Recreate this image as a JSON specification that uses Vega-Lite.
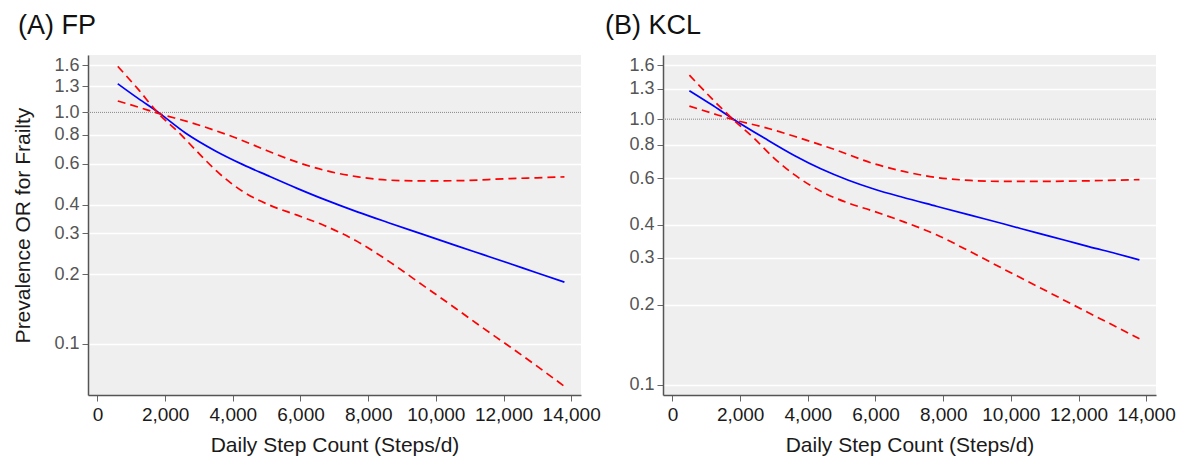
{
  "$schema": "https://vega.github.io/schema/vega-lite/v6.json",
  "background": "white",
  "padding": {"left": 12, "top": 12, "right": 2, "bottom": 2},
  "bounds": "flush",
  "spacing": 82,
  "datasets": {
    "a": [
      {"steps": 600, "curve": "OR", "or": 1.33},
      {"steps": 1200, "curve": "OR", "or": 1.15},
      {"steps": 1800, "curve": "OR", "or": 1.0},
      {"steps": 2600, "curve": "OR", "or": 0.815},
      {"steps": 3500, "curve": "OR", "or": 0.68},
      {"steps": 4300, "curve": "OR", "or": 0.595},
      {"steps": 5000, "curve": "OR", "or": 0.536},
      {"steps": 5900, "curve": "OR", "or": 0.47},
      {"steps": 6700, "curve": "OR", "or": 0.421},
      {"steps": 7700, "curve": "OR", "or": 0.371},
      {"steps": 8600, "curve": "OR", "or": 0.334},
      {"steps": 9600, "curve": "OR", "or": 0.298},
      {"steps": 10600, "curve": "OR", "or": 0.266},
      {"steps": 11400, "curve": "OR", "or": 0.243},
      {"steps": 12200, "curve": "OR", "or": 0.222},
      {"steps": 13000, "curve": "OR", "or": 0.2024},
      {"steps": 13800, "curve": "OR", "or": 0.185},
      {"steps": 600, "curve": "Upper", "or": 1.12},
      {"steps": 1200, "curve": "Upper", "or": 1.055},
      {"steps": 1800, "curve": "Upper", "or": 0.99},
      {"steps": 2800, "curve": "Upper", "or": 0.9},
      {"steps": 4100, "curve": "Upper", "or": 0.775},
      {"steps": 5000, "curve": "Upper", "or": 0.685},
      {"steps": 5900, "curve": "Upper", "or": 0.61},
      {"steps": 6700, "curve": "Upper", "or": 0.563},
      {"steps": 7700, "curve": "Upper", "or": 0.527},
      {"steps": 8600, "curve": "Upper", "or": 0.51},
      {"steps": 9600, "curve": "Upper", "or": 0.506},
      {"steps": 10600, "curve": "Upper", "or": 0.507},
      {"steps": 12200, "curve": "Upper", "or": 0.518},
      {"steps": 13000, "curve": "Upper", "or": 0.522},
      {"steps": 13800, "curve": "Upper", "or": 0.527},
      {"steps": 600, "curve": "Lower", "or": 1.58},
      {"steps": 1200, "curve": "Lower", "or": 1.26},
      {"steps": 1800, "curve": "Lower", "or": 0.99},
      {"steps": 2400, "curve": "Lower", "or": 0.82},
      {"steps": 2950, "curve": "Lower", "or": 0.676},
      {"steps": 3550, "curve": "Lower", "or": 0.553},
      {"steps": 4300, "curve": "Lower", "or": 0.455},
      {"steps": 5100, "curve": "Lower", "or": 0.397},
      {"steps": 5900, "curve": "Lower", "or": 0.36},
      {"steps": 6700, "curve": "Lower", "or": 0.325},
      {"steps": 7700, "curve": "Lower", "or": 0.276},
      {"steps": 8600, "curve": "Lower", "or": 0.228},
      {"steps": 9600, "curve": "Lower", "or": 0.18},
      {"steps": 10600, "curve": "Lower", "or": 0.142},
      {"steps": 11400, "curve": "Lower", "or": 0.117},
      {"steps": 12200, "curve": "Lower", "or": 0.097},
      {"steps": 13000, "curve": "Lower", "or": 0.08},
      {"steps": 13800, "curve": "Lower", "or": 0.0656}
    ],
    "b": [
      {"steps": 500, "curve": "OR", "or": 1.28},
      {"steps": 1150, "curve": "OR", "or": 1.135},
      {"steps": 1800, "curve": "OR", "or": 1.0},
      {"steps": 2700, "curve": "OR", "or": 0.851},
      {"steps": 3600, "curve": "OR", "or": 0.73},
      {"steps": 4400, "curve": "OR", "or": 0.649},
      {"steps": 5200, "curve": "OR", "or": 0.589},
      {"steps": 5950, "curve": "OR", "or": 0.546},
      {"steps": 6800, "curve": "OR", "or": 0.508},
      {"steps": 7800, "curve": "OR", "or": 0.47},
      {"steps": 8800, "curve": "OR", "or": 0.435},
      {"steps": 9800, "curve": "OR", "or": 0.403},
      {"steps": 10800, "curve": "OR", "or": 0.372},
      {"steps": 11600, "curve": "OR", "or": 0.35},
      {"steps": 12300, "curve": "OR", "or": 0.331},
      {"steps": 13100, "curve": "OR", "or": 0.312},
      {"steps": 13800, "curve": "OR", "or": 0.295},
      {"steps": 500, "curve": "Upper", "or": 1.12},
      {"steps": 1150, "curve": "Upper", "or": 1.055},
      {"steps": 1800, "curve": "Upper", "or": 0.995},
      {"steps": 2700, "curve": "Upper", "or": 0.933},
      {"steps": 3600, "curve": "Upper", "or": 0.862},
      {"steps": 4800, "curve": "Upper", "or": 0.768},
      {"steps": 5900, "curve": "Upper", "or": 0.683},
      {"steps": 6800, "curve": "Upper", "or": 0.637},
      {"steps": 7800, "curve": "Upper", "or": 0.603},
      {"steps": 8800, "curve": "Upper", "or": 0.588},
      {"steps": 9800, "curve": "Upper", "or": 0.583},
      {"steps": 10800, "curve": "Upper", "or": 0.583},
      {"steps": 12300, "curve": "Upper", "or": 0.586},
      {"steps": 13800, "curve": "Upper", "or": 0.592},
      {"steps": 500, "curve": "Lower", "or": 1.466},
      {"steps": 1150, "curve": "Lower", "or": 1.2},
      {"steps": 1800, "curve": "Lower", "or": 0.995},
      {"steps": 2400, "curve": "Lower", "or": 0.85},
      {"steps": 3000, "curve": "Lower", "or": 0.714},
      {"steps": 3600, "curve": "Lower", "or": 0.618},
      {"steps": 4400, "curve": "Lower", "or": 0.534},
      {"steps": 5200, "curve": "Lower", "or": 0.483},
      {"steps": 5900, "curve": "Lower", "or": 0.452},
      {"steps": 6800, "curve": "Lower", "or": 0.412},
      {"steps": 7800, "curve": "Lower", "or": 0.367},
      {"steps": 8800, "curve": "Lower", "or": 0.317},
      {"steps": 9800, "curve": "Lower", "or": 0.272},
      {"steps": 10800, "curve": "Lower", "or": 0.234},
      {"steps": 11800, "curve": "Lower", "or": 0.201},
      {"steps": 12800, "curve": "Lower", "or": 0.173},
      {"steps": 13800, "curve": "Lower", "or": 0.149}
    ]
  },
  "hconcat": [
    {
      "width": 493,
      "height": 340,
      "title": {"text": "(A) FP", "anchor": "start", "frame": "group", "dx": -70, "fontSize": 27, "fontWeight": "normal", "offset": 15, "color": "#111"},
      "encoding": {
        "y": {
          "field": "or", "type": "quantitative",
          "scale": {"type": "log", "domain": [0.0602, 1.77], "nice": false},
          "axis": {
            "values": [0.1, 0.2, 0.3, 0.4, 0.6, 0.8, 1, 1.3, 1.6],
            "format": ".1f",
            "title": "Prevalence OR for Frailty",
            "titlePadding": 20,
            "gridOpacity": {"condition": {"test": "datum.value === 1", "value": 0}, "value": 1}
          }
        }
      },
      "layer": [
        {
          "data": {"values": [{"or": 1}]},
          "mark": {"type": "rule", "color": "#888888", "strokeDash": [1, 1], "strokeWidth": 1}
        },
        {
          "data": {"name": "a"},
          "transform": [{"filter": "datum.curve === 'OR'"}],
          "mark": {"type": "line", "color": "#0000ff", "strokeWidth": 1.7, "interpolate": "monotone"},
          "encoding": {
            "x": {
              "field": "steps", "type": "quantitative",
              "scale": {"domain": [-280, 14290], "nice": false, "zero": false},
              "axis": {
                "values": [0, 1000, 2000, 3000, 4000, 5000, 6000, 7000, 8000, 9000, 10000, 11000, 12000, 13000, 14000],
                "labelExpr": "datum.value % 2000 === 0 ? format(datum.value, ',') : ''",
                "tickSize": {"condition": {"test": "datum.value % 2000 === 0", "value": 6}, "value": 4},
                "title": "Daily Step Count (Steps/d)",
                "grid": false
              }
            }
          }
        },
        {
          "data": {"name": "a"},
          "transform": [{"filter": "datum.curve !== 'OR'"}],
          "mark": {"type": "line", "color": "#ff0000", "strokeWidth": 1.7, "strokeDash": [8, 5], "interpolate": "monotone"},
          "encoding": {
            "x": {"field": "steps", "type": "quantitative", "scale": {"domain": [-280, 14290], "nice": false, "zero": false}},
            "detail": {"field": "curve"}
          }
        }
      ]
    },
    {
      "width": 493,
      "height": 340,
      "title": {"text": "(B) KCL", "anchor": "start", "frame": "group", "dx": -58, "fontSize": 27, "fontWeight": "normal", "offset": 15, "color": "#111"},
      "encoding": {
        "y": {
          "field": "or", "type": "quantitative",
          "scale": {"type": "log", "domain": [0.0914, 1.745], "nice": false},
          "axis": {
            "values": [0.1, 0.2, 0.3, 0.4, 0.6, 0.8, 1, 1.3, 1.6],
            "format": ".1f",
            "title": null,
            "gridOpacity": {"condition": {"test": "datum.value === 1", "value": 0}, "value": 1}
          }
        }
      },
      "layer": [
        {
          "data": {"values": [{"or": 1}]},
          "mark": {"type": "rule", "color": "#888888", "strokeDash": [1, 1], "strokeWidth": 1}
        },
        {
          "data": {"name": "b"},
          "transform": [{"filter": "datum.curve === 'OR'"}],
          "mark": {"type": "line", "color": "#0000ff", "strokeWidth": 1.7, "interpolate": "monotone"},
          "encoding": {
            "x": {
              "field": "steps", "type": "quantitative",
              "scale": {"domain": [-280, 14290], "nice": false, "zero": false},
              "axis": {
                "values": [0, 1000, 2000, 3000, 4000, 5000, 6000, 7000, 8000, 9000, 10000, 11000, 12000, 13000, 14000],
                "labelExpr": "datum.value % 2000 === 0 ? format(datum.value, ',') : ''",
                "tickSize": {"condition": {"test": "datum.value % 2000 === 0", "value": 6}, "value": 4},
                "title": "Daily Step Count (Steps/d)",
                "grid": false
              }
            }
          }
        },
        {
          "data": {"name": "b"},
          "transform": [{"filter": "datum.curve !== 'OR'"}],
          "mark": {"type": "line", "color": "#ff0000", "strokeWidth": 1.7, "strokeDash": [8, 5], "interpolate": "monotone"},
          "encoding": {
            "x": {"field": "steps", "type": "quantitative", "scale": {"domain": [-280, 14290], "nice": false, "zero": false}},
            "detail": {"field": "curve"}
          }
        }
      ]
    }
  ],
  "config": {
    "font": "Liberation Sans",
    "view": {"fill": "#efefef", "stroke": null},
    "axis": {
      "domainColor": "#555555",
      "domainWidth": 1.5,
      "tickColor": "#666666",
      "tickWidth": 1,
      "gridColor": "#ffffff",
      "gridWidth": 1.5,
      "labelFontSize": 19,
      "labelColor": "#1a1a1a",
      "labelOverlap": false,
      "labelFlush": false,
      "labelPadding": 4,
      "titleFontSize": 21,
      "titleFontWeight": "normal",
      "titleColor": "#1a1a1a",
      "titlePadding": 10
    },
    "axisY": {
      "tickSize": 6,
      "labelFontSize": 18,
      "labelColor": "#555555",
      "labelPadding": 3
    }
  }
}
